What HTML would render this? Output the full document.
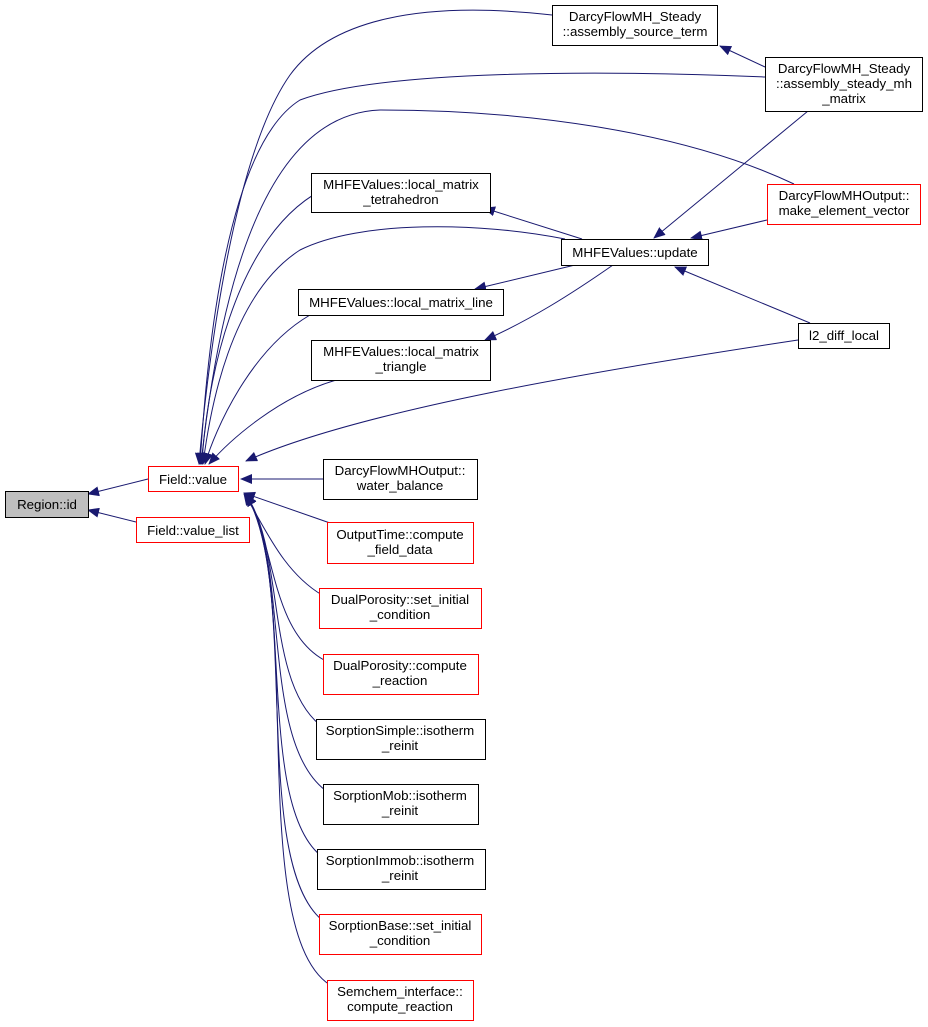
<!DOCTYPE html>
<html><head><meta charset="utf-8"><style>
html,body{margin:0;padding:0;background:#fff;}
svg{display:block;}
text{font-family:"Liberation Sans",Helvetica,sans-serif;font-size:13.3px;fill:#000;}
.e{fill:none;stroke:#191970;stroke-width:1;}
.n{fill:#fff;stroke:#000;}
.r{fill:#fff;stroke:#ff0000;}
</style></head><body>
<svg width="928" height="1027" viewBox="0 0 928 1027" xmlns="http://www.w3.org/2000/svg">
<defs><marker id="m" markerWidth="12" markerHeight="10" refX="11" refY="5" orient="auto" markerUnits="userSpaceOnUse"><path d="M0,0 L12,5 L0,10 z" fill="#191970"/></marker></defs>
<g class="e">
<path d="M148,479 L88,494" marker-end="url(#m)"/>
<path d="M136,522 L88,510" marker-end="url(#m)"/>
<path d="M552,15 C420,0 330,20 290,75 C230,160 205,390 199,464" marker-end="url(#m)"/>
<path d="M765,77 C600,70 380,70 300,100 C220,150 205,390 200,464" marker-end="url(#m)"/>
<path d="M794,184 C680,130 520,110 380,110 C240,115 210,380 201,464" marker-end="url(#m)"/>
<path d="M330,186 C230,230 205,400 202,464" marker-end="url(#m)"/>
<path d="M565,239 C480,222 360,220 300,250 C230,295 210,410 203,464" marker-end="url(#m)"/>
<path d="M310,315 C250,350 215,430 205,464" marker-end="url(#m)"/>
<path d="M340,379 C280,395 230,440 209,464" marker-end="url(#m)"/>
<path d="M798,340 C600,370 360,410 246,461" marker-end="url(#m)"/>
<path d="M323,479 L241,479" marker-end="url(#m)"/>
<path d="M330,523 L244,493" marker-end="url(#m)"/>
<path d="M322,595 C280,570 262,520 244,494" marker-end="url(#m)"/>
<path d="M324,660 C270,630 275,540 246,495" marker-end="url(#m)"/>
<path d="M320,725 C265,680 285,550 246,495" marker-end="url(#m)"/>
<path d="M325,790 C260,740 290,560 246,495" marker-end="url(#m)"/>
<path d="M320,855 C255,800 295,570 246,495" marker-end="url(#m)"/>
<path d="M322,920 C250,860 300,580 246,495" marker-end="url(#m)"/>
<path d="M330,985 C245,930 305,590 246,495" marker-end="url(#m)"/>
<path d="M765,67 L720,46" marker-end="url(#m)"/>
<path d="M582,239 L484,208" marker-end="url(#m)"/>
<path d="M575,265 L475,289" marker-end="url(#m)"/>
<path d="M613,265 C570,295 530,320 485,340" marker-end="url(#m)"/>
<path d="M808,111 L654,238" marker-end="url(#m)"/>
<path d="M767,220 L691,238" marker-end="url(#m)"/>
<path d="M810,323 L675,267" marker-end="url(#m)"/>
</g>
<rect x="5.5" y="491.5" width="83" height="26" fill="#bfbfbf" stroke="#000"/>
<text x="47" y="509" text-anchor="middle">Region::id</text>
<rect class="r" x="148.5" y="466.5" width="90" height="25"/>
<text x="193" y="484" text-anchor="middle">Field::value</text>
<rect class="r" x="136.5" y="517.5" width="113" height="25"/>
<text x="193" y="535" text-anchor="middle">Field::value_list</text>
<rect class="n" x="552.5" y="5.5" width="165" height="40"/>
<text x="635" y="21" text-anchor="middle">DarcyFlowMH_Steady</text><text x="635" y="36" text-anchor="middle">::assembly_source_term</text>
<rect class="n" x="765.5" y="57.5" width="157" height="54"/>
<text x="844" y="73" text-anchor="middle">DarcyFlowMH_Steady</text><text x="844" y="88" text-anchor="middle">::assembly_steady_mh</text><text x="844" y="103" text-anchor="middle">_matrix</text>
<rect class="n" x="311.5" y="173.5" width="179" height="39"/>
<text x="401" y="189" text-anchor="middle">MHFEValues::local_matrix</text><text x="401" y="204" text-anchor="middle">_tetrahedron</text>
<rect class="r" x="767.5" y="184.5" width="153" height="40"/>
<text x="844" y="200" text-anchor="middle">DarcyFlowMHOutput::</text><text x="844" y="215" text-anchor="middle">make_element_vector</text>
<rect class="n" x="561.5" y="239.5" width="147" height="26"/>
<text x="635" y="257" text-anchor="middle">MHFEValues::update</text>
<rect class="n" x="298.5" y="289.5" width="205" height="26"/>
<text x="401" y="307" text-anchor="middle">MHFEValues::local_matrix_line</text>
<rect class="n" x="798.5" y="323.5" width="91" height="25"/>
<text x="844" y="340" text-anchor="middle">l2_diff_local</text>
<rect class="n" x="311.5" y="340.5" width="179" height="40"/>
<text x="401" y="356" text-anchor="middle">MHFEValues::local_matrix</text><text x="401" y="371" text-anchor="middle">_triangle</text>
<rect class="n" x="323.5" y="459.5" width="154" height="40"/>
<text x="400" y="475" text-anchor="middle">DarcyFlowMHOutput::</text><text x="400" y="490" text-anchor="middle">water_balance</text>
<rect class="r" x="327.5" y="522.5" width="146" height="41"/>
<text x="400" y="539" text-anchor="middle">OutputTime::compute</text><text x="400" y="554" text-anchor="middle">_field_data</text>
<rect class="r" x="319.5" y="588.5" width="162" height="40"/>
<text x="400" y="604" text-anchor="middle">DualPorosity::set_initial</text><text x="400" y="619" text-anchor="middle">_condition</text>
<rect class="r" x="323.5" y="654.5" width="155" height="40"/>
<text x="400" y="670" text-anchor="middle">DualPorosity::compute</text><text x="400" y="685" text-anchor="middle">_reaction</text>
<rect class="n" x="316.5" y="719.5" width="169" height="40"/>
<text x="400" y="735" text-anchor="middle">SorptionSimple::isotherm</text><text x="400" y="750" text-anchor="middle">_reinit</text>
<rect class="n" x="323.5" y="784.5" width="155" height="40"/>
<text x="400" y="800" text-anchor="middle">SorptionMob::isotherm</text><text x="400" y="815" text-anchor="middle">_reinit</text>
<rect class="n" x="317.5" y="849.5" width="168" height="40"/>
<text x="400" y="865" text-anchor="middle">SorptionImmob::isotherm</text><text x="400" y="880" text-anchor="middle">_reinit</text>
<rect class="r" x="319.5" y="914.5" width="162" height="40"/>
<text x="400" y="930" text-anchor="middle">SorptionBase::set_initial</text><text x="400" y="945" text-anchor="middle">_condition</text>
<rect class="r" x="327.5" y="980.5" width="146" height="40"/>
<text x="400" y="996" text-anchor="middle">Semchem_interface::</text><text x="400" y="1011" text-anchor="middle">compute_reaction</text>
</svg>
</body></html>
